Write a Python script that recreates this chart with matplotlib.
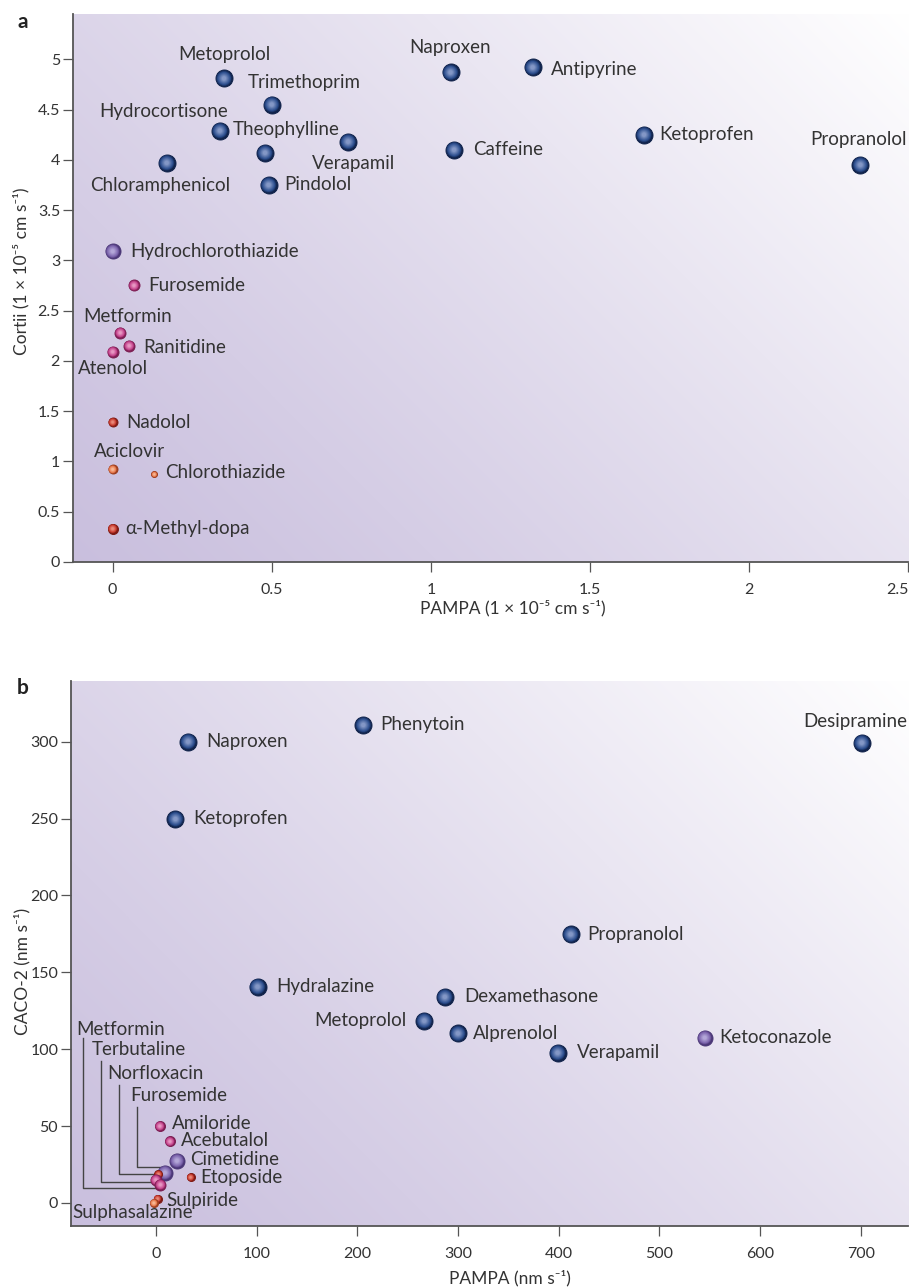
import numpy as np
import matplotlib.pyplot as plt
from matplotlib.colors import to_rgb
from matplotlib.ticker import FuncFormatter

plt.rcParams['font.family'] = ['Lato', 'DejaVu Sans']

DPI = 100

# ---- panel a: PAMPA vs Cortii (1e-5 cm/s) ----
a_names = ['Metoprolol', 'Trimethoprim', 'Hydrocortisone', 'Theophylline', 'Verapamil',
           'Chloramphenicol', 'Pindolol', 'Naproxen', 'Antipyrine', 'Caffeine',
           'Ketoprofen', 'Propranolol', 'Hydrochlorothiazide', 'Furosemide', 'Metformin',
           'Ranitidine', 'Atenolol', 'Nadolol', 'Aciclovir', 'Chlorothiazide', 'α-Methyl-dopa']
a_pampa = [0.35, 0.50, 0.337, 0.479, 0.74, 0.17, 0.49, 1.062, 1.32, 1.073, 1.67, 2.35,
           0.0, 0.067, 0.024, 0.052, 0.0, 0.0, 0.0, 0.131, 0.0]
a_cortii = [4.81, 4.55, 4.29, 4.07, 4.18, 3.97, 3.75, 4.87, 4.92, 4.10, 4.25, 3.95,
            3.09, 2.75, 2.28, 2.15, 2.09, 1.39, 0.92, 0.87, 0.33]
a_group = ['blue'] * 12 + ['purple', 'pink', 'pink', 'pink', 'pink', 'red', 'orange', 'orange', 'red']
a_xticks = [0, 0.5, 1, 1.5, 2, 2.5]
a_yticks = [0, 0.5, 1, 1.5, 2, 2.5, 3, 3.5, 4, 4.5, 5]

# marker diameters (px) and label placement (dx, dy in points, ha)
a_size = [17] * 12 + [15, 11, 11, 11, 11, 9, 9, 6, 10]
a_lab = [(0, 17, 'center'), (-17, 16, 'left'), (6, 14, 'right'), (-23, 17, 'left'),
         (3.6, -16, 'center'), (-5, -16, 'center'), (11.5, 0, 'left'), (0, 18, 'center'),
         (13, -1.3, 'left'), (13.4, 0, 'left'), (11, 0, 'left'), (-1.7, 18.5, 'center'),
         (12.7, 0, 'left'), (10.3, 0, 'left'), (5.4, 11.5, 'center'), (9.8, -1.2, 'left'),
         (0, -12.2, 'center'), (10, 0, 'left'), (12, 13, 'center'), (7.7, 1.2, 'left'),
         (8.9, 0, 'left')]

# ---- panel b: PAMPA vs CACO-2 (nm/s) ----
b_names = ['Naproxen', 'Phenytoin', 'Desipramine', 'Ketoprofen', 'Propranolol', 'Hydralazine',
           'Dexamethasone', 'Metoprolol', 'Alprenolol', 'Verapamil', 'Ketoconazole',
           'Cimetidine', 'Furosemide', 'Amiloride', 'Acebutalol', 'Norfloxacin', 'Etoposide',
           'Terbutaline', 'Metformin', 'Sulpiride', 'Sulphasalazine']
b_pampa = [32, 206, 701, 19.5, 412, 101, 287, 266.5, 300, 399, 545,
           21, 9, 4, 14, 2.6, 34.5, 0, 4.6, 1.7, -2]
b_caco = [300, 310.8, 299.3, 249.7, 174.7, 140.6, 134, 118.5, 110.3, 97.7, 107.5,
          27.5, 19.7, 50, 40, 18.7, 16.7, 15, 11.9, 2.8, 0]
b_group = ['blue'] * 10 + ['purple', 'purple', 'purple', 'pink', 'pink', 'red', 'red',
                           'pink', 'pink', 'red', 'orange']
b_xticks = [0, 100, 200, 300, 400, 500, 600, 700]
b_yticks = [0, 50, 100, 150, 200, 250, 300]

b_size = [17] * 10 + [15, 15, 15, 10, 10, 8, 8, 11, 11, 8, 8]
b_lab = [(13.2, 0, 'left'), (12.3, 0, 'left'), (-4.8, 15.6, 'center'), (12.7, 0, 'left'),
         (12, 0, 'left'), (13.5, 0, 'left'), (14, 0, 'left'), (-12.9, 0, 'right'),
         (11, 0, 'left'), (13.8, 0, 'left'), (10.4, 0, 'left'), (9.6, 1.2, 'left'),
         None, (8.4, 1.9, 'left'), (7.7, 0.7, 'left'), None, (7.2, 0, 'left'),
         None, None, (6.5, -1, 'left'), (-58.5, -6.5, 'left')]
# leader lines: name -> (text x, text y, elbow x, line top y, corner y) in data units
b_leader = {'Metformin': (-78.8, 112.5, -72.8, 107.0, 9.6),
            'Terbutaline': (-63.3, 99.5, -54.6, 92.0, 13.8),
            'Norfloxacin': (-48.0, 84.3, -37.0, 76.7, 18.9),
            'Furosemide': (-25.8, 70.2, -18.9, 62.6, 23.2)}

# sphere colours: rim, body, highlight
PALETTE = {
    'blue': ('#10224a', '#2b4d8d', '#8397c6'),
    'purple': ('#4a3676', '#7c64ad', '#b3a6d8'),
    'pink': ('#7c1d52', '#c4428c', '#e796c2'),
    'red': ('#7e1a14', '#c83a2e', '#e98878'),
    'orange': ('#9c3d1c', '#e8784c', '#f8b894'),
}
TXT = '#333333'
AX = '#555555'


def mix(c1, c2, t):
    a, b = np.array(to_rgb(c1)), np.array(to_rgb(c2))
    return tuple(a + (b - a) * t)


def sphere(ax, x, y, d, group, z):
    rim, body, hi = PALETTE[group]
    n = 10
    for k in range(n):
        f = k / (n - 1)
        dk = d * (1 - 0.75 * f)
        if f < 0.3:
            col = mix(rim, body, f / 0.3)
        else:
            col = mix(body, hi, (f - 0.3) / 0.7)
        ax.scatter([x], [y], s=(dk * 72 / DPI) ** 2, color=[col],
                   edgecolors=rim if k == 0 else 'none', linewidths=0.7 if k == 0 else 0,
                   zorder=z + k * 0.001, clip_on=False)


def background(ax, w, h):
    xs = np.linspace(0, 1, 300)
    ys = np.linspace(0, 1, 300)
    X, Y = np.meshgrid(xs, ys)
    t = (X * w + Y * h) / (w + h)
    t = np.clip(t, 0, 1) ** 1.15
    c0 = np.array([0.79, 0.75, 0.87])
    c1 = np.array([1.0, 1.0, 1.0])
    img = c0 + (c1 - c0) * t[..., None]
    ax.imshow(img, extent=[0, 1, 0, 1], transform=ax.transAxes, origin='lower',
              aspect='auto', zorder=0, interpolation='bilinear')


def style(ax, xticks, yticks, xlim, ylim):
    ax.set_xlim(*xlim)
    ax.set_ylim(*ylim)
    ax.set_xticks(xticks)
    ax.set_yticks(yticks)
    fmt = FuncFormatter(lambda v, p: f'{v:g}')
    ax.xaxis.set_major_formatter(fmt)
    ax.yaxis.set_major_formatter(fmt)
    for s in ['top', 'right']:
        ax.spines[s].set_visible(False)
    for s in ['left', 'bottom']:
        ax.spines[s].set_color(AX)
        ax.spines[s].set_linewidth(1.3)
        ax.spines[s].set_zorder(5)
    ax.tick_params(direction='out', length=7, width=0.9, color=AX, labelcolor=TXT,
                   labelsize=11.5)
    ax.tick_params(axis='x', pad=8)
    ax.tick_params(axis='y', pad=2)


fig = plt.figure(figsize=(909 / DPI, 1288 / DPI), dpi=DPI)

# panel a
ax1 = fig.add_axes([0.0798, 0.5634, 0.9192, 0.4257])
background(ax1, 836, 548)
style(ax1, a_xticks, a_yticks, (-0.126, 2.50), (-0.005, 5.45))
ax1.get_xticklabels()[-1].set_ha('right')
for i, name in enumerate(a_names):
    sphere(ax1, a_pampa[i], a_cortii[i], a_size[i], a_group[i], 10 + i * 0.01)
    dx, dy, ha = a_lab[i]
    ax1.annotate(name, (a_pampa[i], a_cortii[i]), xytext=(dx, dy), textcoords='offset points',
                 ha=ha, va='center', fontsize=13.5, color=TXT, zorder=20)
ax1.set_xlabel('PAMPA (1 × 10⁻⁵ cm s⁻¹)', fontsize=12.5, color=TXT)
ax1.xaxis.set_label_coords(0.527, -0.069)
ax1.set_ylabel('Cortii (1 × 10⁻⁵ cm s⁻¹)', fontsize=12.5, color=TXT)
ax1.yaxis.set_label_coords(-0.051, 0.53)
fig.text(17 / 909, 1 - 22 / 1288, 'a', fontsize=15, fontweight='bold', color='#222222',
         ha='left', va='center')

# panel b
ax2 = fig.add_axes([0.0778, 0.0481, 0.9212, 0.4234])
background(ax2, 838, 545)
style(ax2, b_xticks, b_yticks, (-84.5, 747), (-15, 339.6))
for i, name in enumerate(b_names):
    sphere(ax2, b_pampa[i], b_caco[i], b_size[i], b_group[i], 10 + i * 0.01)
    if b_lab[i] is not None:
        dx, dy, ha = b_lab[i]
        ax2.annotate(name, (b_pampa[i], b_caco[i]), xytext=(dx, dy), textcoords='offset points',
                     ha=ha, va='center', fontsize=13.5, color=TXT, zorder=20)
for name, (tx, ty, ex, top, cy) in b_leader.items():
    i = b_names.index(name)
    ax2.plot([ex, ex, b_pampa[i]], [top, cy, cy], color='#444444', lw=1.0, zorder=8)
    ax2.text(tx, ty, name, ha='left', va='center', fontsize=13.5, color=TXT, zorder=20)
ax2.set_xlabel('PAMPA (nm s⁻¹)', fontsize=12.5, color=TXT)
ax2.xaxis.set_label_coords(0.524, -0.08)
ax2.set_ylabel('CACO-2 (nm s⁻¹)', fontsize=12.5, color=TXT)
ax2.yaxis.set_label_coords(-0.048, 0.466)
fig.text(17 / 909, 1 - 688 / 1288, 'b', fontsize=15, fontweight='bold', color='#222222',
         ha='left', va='center')

fig.savefig('out.png', dpi=DPI)
